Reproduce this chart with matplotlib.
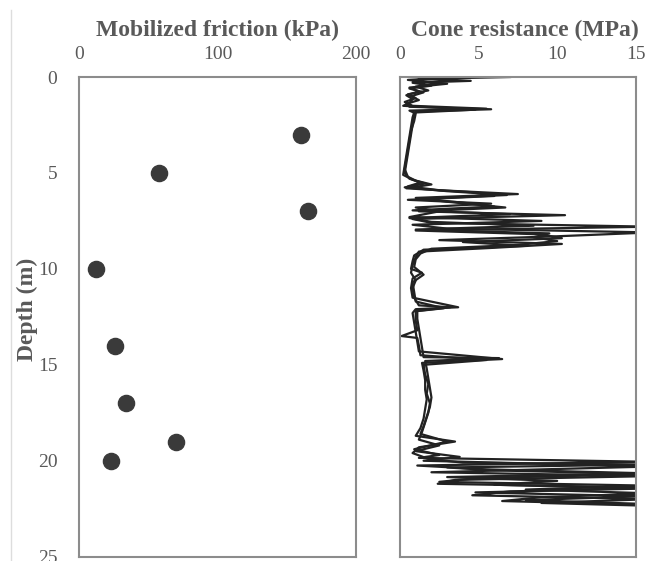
import matplotlib
matplotlib.use("Agg")
import matplotlib.pyplot as plt
from matplotlib.lines import Line2D

plt.rcParams['font.family'] = ['Liberation Serif', 'DejaVu Serif']

# mobilized friction (kPa) vs depth (m)
friction_depth = [3, 5, 7, 10, 14, 17, 19, 20]
friction_kpa = [160, 58, 165, 12, 26, 34, 70, 23]

# CPT traces: depth (m) and cone resistance (MPa)
cpt1_depth = [0, 0.1, 0.2, 0.3, 0.45, 0.6, 0.8, 1.0, 1.2, 1.4, 1.55, 1.68, 1.8, 2.0,
              2.5, 3.0, 3.5, 4.0, 4.5, 5.0, 5.3, 5.5, 5.7, 5.9, 6.1, 6.3, 6.5, 6.8,
              7.0, 7.2, 7.4, 7.6, 7.8, 8.0, 8.2, 8.4, 8.6, 8.8, 9.0, 9.3, 9.6, 10.0,
              10.2, 10.5, 11.0, 11.5, 12.0, 12.1, 12.3, 12.8, 13.3, 13.8, 14.3, 14.7,
              14.9, 15.3, 15.8, 16.3, 16.8, 17.3, 17.8, 18.3, 18.7, 19.0, 19.3, 19.6,
              19.9, 20.1, 20.2, 20.35, 20.5, 20.7, 20.9, 21.1, 21.3, 21.5, 21.7, 21.9,
              22.1, 22.3, 22.4]
cpt1_qc = [7.0, 1.2, 4.5, 0.8, 2.0, 0.6, 1.5, 0.7, 1.2, 0.4, 0.6, 5.8, 1.0, 0.9,
           0.8, 0.7, 0.6, 0.5, 0.4, 0.3, 0.6, 1.3, 0.5, 2.5, 7.5, 1.0, 3.0, 6.7,
           1.2, 10.5, 0.8, 2.0, 16.0, 1.0, 9.0, 10.3, 4.0, 8.0, 1.5, 0.9, 0.8, 0.7,
           1.4, 0.8, 0.7, 0.8, 3.7, 1.0, 0.8, 0.9, 1.0, 1.1, 1.2, 6.5,
           1.4, 1.5, 1.6, 1.6, 1.7, 1.6, 1.5, 1.3, 1.0, 3.5, 1.2, 0.8,
           1.8, 4.0, 16.0, 3.0, 6.0, 16.0, 5.0, 2.5, 16.0, 8.0, 16.0, 9.0,
           6.5, 16.0, 16.0]

cpt2_depth = [0.0, 0.15, 0.3, 0.5, 0.7, 0.9, 1.1, 1.3, 1.5, 1.65, 1.75, 1.9, 2.3, 2.8,
              3.3, 3.8, 4.3, 4.8, 5.2, 5.4, 5.6, 5.8, 6.0, 6.2, 6.4, 6.6, 6.8, 7.0,
              7.3, 7.5, 7.7, 7.9, 8.1, 8.3, 8.5, 8.7, 8.9, 9.1, 9.4, 9.8, 10.2, 10.6,
              11.0, 11.5, 11.9, 12.0, 12.2, 12.7, 13.2, 13.5, 13.6, 14.0, 14.5, 14.75,
              15.0, 15.5, 16.0, 16.5, 17.0, 17.5, 18.0, 18.5, 18.9, 19.2, 19.5, 19.8,
              20.0, 20.3, 20.6, 20.8, 21.0, 21.2, 21.4, 21.6, 21.8, 22.0, 22.2, 22.35]
cpt2_qc = [4.0, 0.5, 2.5, 1.0, 1.8, 0.5, 1.0, 0.3, 0.8, 5.5, 0.6, 1.0, 0.9, 0.7,
           0.6, 0.5, 0.4, 0.3, 0.5, 1.0, 2.0, 0.4, 4.5, 6.0, 0.5, 5.8, 1.0, 2.5,
           0.6, 9.0, 0.8, 3.0, 16.0, 10.0, 2.5, 10.3, 6.0, 1.2, 1.0, 0.8, 0.7, 1.0,
           0.8, 0.9, 1.2, 3.2, 1.0, 1.0, 1.1, 0.1, 1.1, 1.2, 1.3, 5.5,
           1.5, 1.6, 1.8, 1.7, 1.9, 1.8, 1.6, 1.4, 1.2, 2.5, 1.0, 3.8,
           1.5, 16.0, 2.0, 16.0, 3.5, 2.4, 16.0, 7.0, 4.6, 16.0, 9.0, 16.0]

cpt3_depth = [0.0, 0.2, 0.35, 0.55, 0.75, 0.95, 1.15, 1.35, 1.5, 1.7, 1.85, 2.1, 2.6,
              3.1, 3.6, 4.1, 4.6, 5.1, 5.35, 5.55, 5.75, 5.95, 6.15, 6.35, 6.55, 6.75,
              6.95, 7.15, 7.35, 7.55, 7.75, 7.95, 8.15, 8.35, 8.55, 8.75, 8.95, 9.2,
              9.5, 9.9, 10.3, 10.7, 11.2, 11.7, 12.05, 12.2, 12.6, 13.1, 13.6, 14.1,
              14.6, 14.65, 14.8, 15.2, 15.7, 16.2, 16.7, 17.2, 17.7, 18.2, 18.6, 19.0,
              19.4, 19.7, 19.85, 20.05, 20.25, 20.45, 20.65, 20.85, 21.05, 21.25,
              21.45, 21.65, 21.85, 22.05, 22.25, 22.42]
cpt3_qc = [2.0, 0.8, 3.0, 0.6, 1.2, 0.4, 0.8, 0.6, 0.2, 4.8, 0.9, 0.8, 0.7,
           0.6, 0.5, 0.4, 0.3, 0.2, 0.8, 1.6, 0.3, 3.0, 6.8, 1.5, 4.0, 6.0,
           0.8, 7.0, 0.6, 2.0, 8.5, 1.0, 9.5, 8.5, 10.0, 7.5, 2.0, 1.3,
           1.0, 0.9, 1.5, 0.8, 0.9, 1.0, 2.8, 1.1, 1.1, 1.2, 1.3, 1.4,
           1.5, 6.3, 1.6, 1.7, 1.8, 1.9, 2.0, 1.9, 1.7, 1.5, 1.3, 3.0,
           0.9, 2.5, 1.2, 15.5, 1.1, 5.5, 15.5, 3.0, 10.0, 6.0,
           15.5, 4.8, 15.5, 8.0, 15.5, 15.5]

depth_ticks = [0, 5, 10, 15, 20, 25]
grey = '#595959'
spine_grey = '#8c8c8c'

fig = plt.figure(figsize=(6.59, 5.61), dpi=100)
ax1 = fig.add_axes([0.1199, 0.0077, 0.4203, 0.855])
ax2 = fig.add_axes([0.607, 0.0077, 0.3577, 0.855])

ax1.scatter(friction_kpa, friction_depth, s=135, color='#3a3a3a', zorder=3, clip_on=False)
ax1.set_xlim(0, 200)
ax1.set_xticks([0, 100, 200])
ax1.set_ylabel('Depth (m)', fontsize=17, fontweight='bold', color=grey, labelpad=0)
ax1.yaxis.label.set_y(0.516)
ax1.set_title('Mobilized friction (kPa)', fontsize=17, fontweight='bold', color=grey, pad=7)

for d, q in [(cpt1_depth, cpt1_qc), (cpt2_depth, cpt2_qc), (cpt3_depth, cpt3_qc)]:
    ax2.plot(q, d, color='#222222', lw=1.6)
ax2.set_xlim(0, 15)
ax2.set_xticks([0, 5, 10, 15])
ax2.set_title('Cone resistance (MPa)', fontsize=17, fontweight='bold', color=grey, pad=7, x=0.53)

for ax in (ax1, ax2):
    ax.set_ylim(25, 0)
    ax.set_yticks(depth_ticks)
    ax.xaxis.tick_top()
    ax.tick_params(length=0, labelsize=14, labelcolor=grey)
    ax.tick_params(axis='x', pad=10)
    ax.tick_params(axis='y', pad=15.5)
    for s in ax.spines.values():
        s.set_color(spine_grey)
        s.set_linewidth(1.5)
ax2.set_yticklabels([])

fig.add_artist(Line2D([11 / 659, 11 / 659], [0, 1 - 10 / 561], color='#dddddd', lw=1))

fig.savefig('out.png', dpi=100)
